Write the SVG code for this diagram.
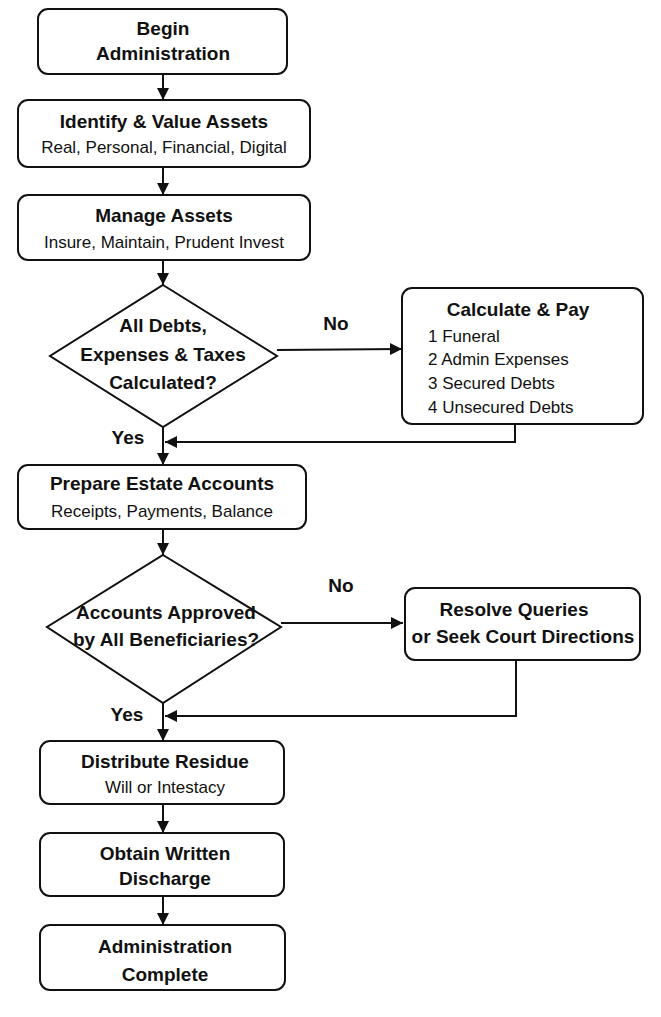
<svg xmlns="http://www.w3.org/2000/svg" width="661" height="1017" viewBox="0 0 661 1017">
<style>
.b{fill:#fff;stroke:#111;stroke-width:2}
.t{font-family:"Liberation Sans",Arial,sans-serif;font-weight:bold;font-size:19px;fill:#111;text-anchor:middle}
.s{font-family:"Liberation Sans",Arial,sans-serif;font-size:17px;fill:#111;text-anchor:middle}
.l{font-family:"Liberation Sans",Arial,sans-serif;font-size:17px;fill:#111}
.c{fill:none;stroke:#111;stroke-width:2}
</style>
<defs><marker id="a" viewBox="0 0 10 10" refX="10" refY="5" markerWidth="6" markerHeight="6" orient="auto"><path d="M0,0L10,5L0,10z" fill="#111"/></marker></defs>
<rect width="661" height="1017" fill="#fff"/>
<g id="connectors">
<path class="c" marker-end="url(#a)" d="M163,74V100"/>
<path class="c" marker-end="url(#a)" d="M163,167V195"/>
<path class="c" marker-end="url(#a)" d="M163,260V285"/>
<path class="c" marker-end="url(#a)" d="M277,350L402,349"/>
<path class="c" marker-end="url(#a)" d="M515,424V442H165"/>
<path class="c" marker-end="url(#a)" d="M163,427V465"/>
<path class="c" marker-end="url(#a)" d="M163,529V555"/>
<path class="c" marker-end="url(#a)" d="M281,623H403"/>
<path class="c" marker-end="url(#a)" d="M516,660V716H165"/>
<path class="c" marker-end="url(#a)" d="M163,703V741"/>
<path class="c" marker-end="url(#a)" d="M163,804V833"/>
<path class="c" marker-end="url(#a)" d="M163,896V925"/>
<text class="t" x="336" y="330" font-size="18">No</text>
<text class="t" x="128" y="444" font-size="18">Yes</text>
<text class="t" x="341" y="592" font-size="18">No</text>
<text class="t" x="127" y="721" font-size="18">Yes</text>
</g>
<g id="begin"><rect class="b" x="38" y="9" width="249" height="65" rx="10"/><text class="t" x="163" y="35">Begin</text><text class="t" x="163" y="60">Administration</text></g>
<g id="identify"><rect class="b" x="18" y="100" width="292" height="67" rx="10"/><text class="t" x="164" y="128">Identify &amp; Value Assets</text><text class="s" x="164" y="153">Real, Personal, Financial, Digital</text></g>
<g id="manage"><rect class="b" x="18" y="195" width="292" height="65" rx="10"/><text class="t" x="164" y="222">Manage Assets</text><text class="s" x="164" y="248">Insure, Maintain, Prudent Invest</text></g>
<g id="d1"><polygon class="b" points="163,285 277,356 163,427 50,356"/><text class="t" x="163" y="332" font-size="17">All Debts,</text><text class="t" x="163" y="361" font-size="17">Expenses &amp; Taxes</text><text class="t" x="163" y="389" font-size="17">Calculated?</text></g>
<g id="calc"><rect class="b" x="402" y="288" width="241" height="136" rx="10"/><text class="t" x="518" y="316">Calculate &amp; Pay</text><text class="l" x="428" y="342">1  Funeral</text><text class="l" x="428" y="365">2  Admin Expenses</text><text class="l" x="428" y="389">3  Secured Debts</text><text class="l" x="428" y="413">4  Unsecured Debts</text></g>
<g id="prepare"><rect class="b" x="18" y="465" width="288" height="64" rx="10"/><text class="t" x="162" y="490">Prepare Estate Accounts</text><text class="s" x="162" y="517">Receipts, Payments, Balance</text></g>
<g id="d2"><polygon class="b" points="163,555 281,627 163,703 47,627"/><text class="t" x="166" y="619" font-size="15">Accounts Approved</text><text class="t" x="166" y="646" font-size="15">by All Beneficiaries?</text></g>
<g id="resolve"><rect class="b" x="405" y="588" width="235" height="72" rx="10"/><text class="t" x="514" y="616" font-size="17">Resolve Queries</text><text class="t" x="523" y="643" font-size="17">or Seek Court Directions</text></g>
<g id="distribute"><rect class="b" x="40" y="741" width="244" height="63" rx="10"/><text class="t" x="165" y="768">Distribute Residue</text><text class="s" x="165" y="793">Will or Intestacy</text></g>
<g id="obtain"><rect class="b" x="40" y="833" width="244" height="63" rx="10"/><text class="t" x="165" y="860">Obtain Written</text><text class="t" x="165" y="885">Discharge</text></g>
<g id="complete"><rect class="b" x="40" y="925" width="245" height="65" rx="10"/><text class="t" x="165" y="953" font-size="21">Administration</text><text class="t" x="165" y="981" font-size="21">Complete</text></g>
</svg>
